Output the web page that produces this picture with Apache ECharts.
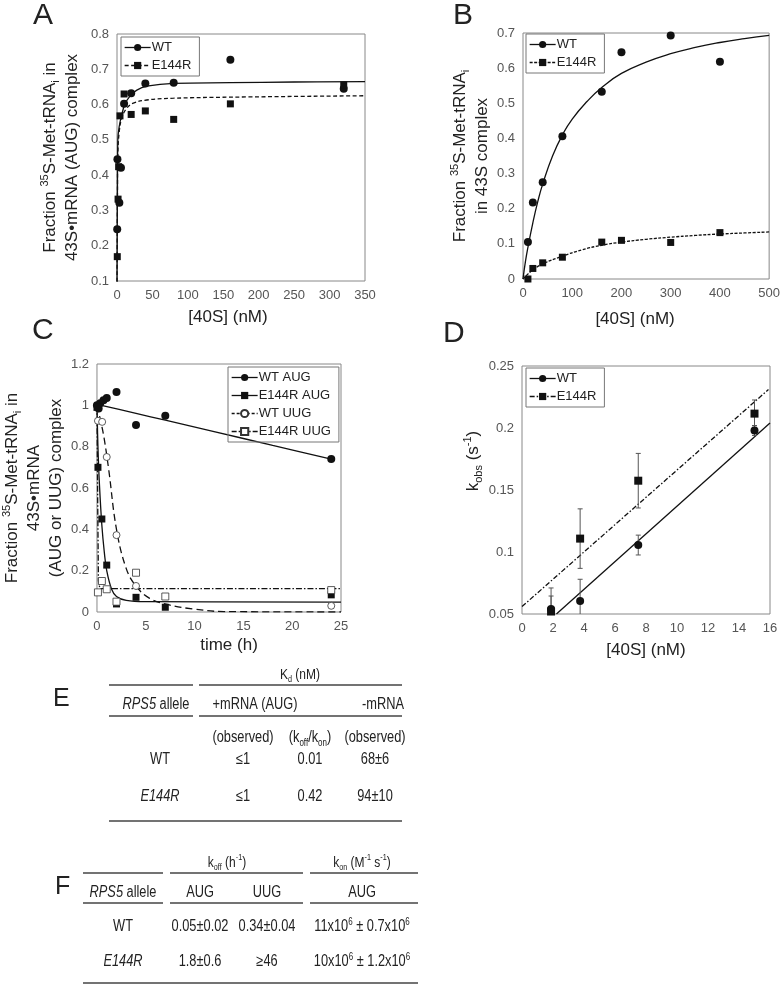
<!DOCTYPE html>
<html>
<head>
<meta charset="utf-8">
<script src="https://cdn.jsdelivr.net/npm/echarts@6/dist/echarts.min.js"></script>
<style>
  html, body { margin: 0; padding: 0; background: #fff; }
  #fig { width: 783px; height: 984px; }
</style>
</head>
<body>
<div id="fig"></div>
<script>
// ---------- panel A : 43S·mRNA (AUG) binding vs [40S]
const aWT = [[0.3, 0.247], [0.6, 0.445], [3.3, 0.322], [5.6, 0.421], [10, 0.602], [20, 0.632], [40, 0.66], [80, 0.662], [160, 0.727], [320, 0.645]];
const aE144R = [[0.4, 0.169], [1.5, 0.332], [2.3, 0.424], [4.2, 0.568], [10, 0.63], [20, 0.572], [40, 0.582], [80, 0.558], [160, 0.602], [320, 0.656]];
const aWTfit = [[0, 0.08], [0.6, 0.35], [1.2, 0.5], [3.3, 0.54], [6.6, 0.57], [11, 0.6], [18, 0.623], [28, 0.641], [42, 0.652], [80, 0.66], [160, 0.662], [250, 0.664], [350, 0.665]];
const aE144Rfit = [[0, 0.08], [0.6, 0.33], [1.2, 0.46], [3, 0.52], [6.6, 0.561], [13.5, 0.589], [23, 0.604], [42, 0.613], [80, 0.618], [160, 0.621], [350, 0.625]];

// ---------- panel B : 43S binding (no mRNA)
const bWT = [[10, 0.105], [20, 0.218], [40, 0.275], [80, 0.406], [160, 0.533], [200, 0.645], [300, 0.693], [400, 0.618]];
const bE144R = [[10, 0], [20, 0.03], [40, 0.046], [80, 0.062], [160, 0.105], [200, 0.11], [300, 0.104], [400, 0.132]];
const bWTfit = [[0, 0], [5, 0.05], [10, 0.09], [20, 0.16], [30, 0.22], [40, 0.27], [60, 0.35], [80, 0.41], [100, 0.455], [130, 0.505], [160, 0.545], [200, 0.585], [250, 0.617], [300, 0.641], [350, 0.659], [400, 0.673], [450, 0.684], [500, 0.693]];
const bE144Rfit = [[0, 0], [10, 0.014], [20, 0.026], [40, 0.043], [80, 0.065], [120, 0.083], [160, 0.096], [200, 0.105], [250, 0.113], [300, 0.119], [350, 0.124], [400, 0.128], [450, 0.131], [500, 0.134]];

// ---------- panel C : dissociation time course
const cWTAUG = [[0, 1.0], [0.17, 0.985], [0.33, 1.01], [0.67, 1.025], [1, 1.035], [2, 1.065], [4, 0.905], [7, 0.95], [24, 0.74]];
const cE144RAUG = [[0, 0.99], [0.1, 0.70], [0.5, 0.45], [1, 0.227], [2, 0.039], [4, 0.071], [7, 0.023], [24, 0.083]];
const cWTUUG = [[0.1, 0.925], [0.53, 0.92], [1, 0.75], [2, 0.372], [4, 0.126], [24, 0.03]];
const cE144RUUG = [[0.1, 0.095], [0.5, 0.15], [1, 0.11], [2, 0.05], [4, 0.19], [7, 0.075], [24, 0.106]];
const cWTAUGfit = [[0, 1.005], [4, 0.961], [7, 0.928], [12, 0.873], [18, 0.806], [24, 0.74]];
const cE144RAUGfit = [[0, 1.0], [0.1, 0.8], [0.25, 0.62], [0.5, 0.42], [0.75, 0.29], [1, 0.2], [1.5, 0.11], [2, 0.075], [3, 0.056], [5, 0.05], [25, 0.048]];
const cWTUUGfit = [[0, 1.0], [0.35, 0.93], [0.7, 0.85], [1.2, 0.69], [2, 0.4], [3, 0.21], [4, 0.125], [5.4, 0.066], [7.4, 0.034], [9.8, 0.015], [13, 0.002], [25, 0]];
const cE144RUUGfit = [[0, 1.0], [0.08, 0.5], [0.15, 0.15], [0.3, 0.113], [25, 0.113]];

// ---------- panel D : kobs vs [40S]
const dConc = [1.875, 3.75, 7.5, 15];
const dWT = [0.054, 0.0605, 0.1056, 0.198];
const dWTerr = [0.0105, 0.0175, 0.008, 0.004];
const dE144R = [0.052, 0.1108, 0.1575, 0.2116];
const dE144Rerr = [0.019, 0.024, 0.022, 0.011];
const dWTfit = [[2.22, 0.05], [16, 0.204]];
const dE144Rfit = [[0, 0.056], [15.9, 0.231]];

// ---------- table E
const tabEHead = ['{it|RPS5} allele', '+mRNA (AUG)', '-mRNA'];
const tabESub = ['(observed)', '(k{sub|off}/k{sub|on})', '(observed)'];
const tabEAllele = ['WT', '{it|E144R}'];
const tabEObs = ['≤1', '≤1'];
const tabERatio = ['0.01', '0.42'];
const tabEMinus = ['68±6', '94±10'];

// ---------- table F
const tabFHead = ['{it|RPS5} allele', 'AUG', 'UUG', 'AUG'];
const tabFAllele = ['WT', '{it|E144R}'];
const tabFOffAUG = ['0.05±0.02', '1.8±0.6'];
const tabFOffUUG = ['0.34±0.04', '≥46'];
const tabFOnAUG = ['11x10{sup|6} ± 0.7x10{sup|6}', '10x10{sup|6} ± 1.2x10{sup|6}'];

const FONT = "'Liberation Sans', Arial, Helvetica, sans-serif";
const INK = '#111';

const richFor = (size, fam) => ({
    sup: { fontSize: Math.round(size * 0.62), fontFamily: fam, verticalAlign: 'top', color: '#222' },
    sub: { fontSize: Math.round(size * 0.62), fontFamily: fam, verticalAlign: 'bottom', color: '#222' },
    it: { fontSize: size, fontFamily: fam, fontStyle: 'italic', color: '#222' }
});

// markers: line series with an invisible line so the legend can show line + symbol
const dots = (name, data, ax, symbol, size, open) => ({
    type: 'line', name: name, data: data, xAxisIndex: ax, yAxisIndex: ax,
    symbol: symbol, symbolSize: size, showSymbol: true, clip: false,
    lineStyle: { width: 0, opacity: 0 },
    itemStyle: open ? { color: '#fff', borderColor: '#333', borderWidth: 0.8 } : { color: INK, borderWidth: 0 },
    emphasis: { disabled: true }, z: 5
});

const fit = (data, ax, type, smooth) => ({
    type: 'line', data: data, xAxisIndex: ax, yAxisIndex: ax,
    showSymbol: false, symbol: 'none', smooth: smooth,
    lineStyle: { color: INK, width: 1.3, type: type },
    emphasis: { disabled: true }, silent: true, z: 3
});

const legendFor = (names, types, left, top) => ({
    orient: 'vertical', left: left, top: top, selectedMode: false,
    data: names.map((n, i) => ({ name: n, lineStyle: { type: types[i], width: 1.3, color: INK, opacity: 1 } })),
    formatter: (n) => n.split('|')[1],
    itemWidth: 26, itemHeight: 9, itemGap: 5,
    padding: [4, 8, 4, 3], borderColor: '#777', borderWidth: 1,
    textStyle: { fontSize: 13, color: '#222', fontFamily: FONT, padding: [0, 0, 0, -4] }
});

const axisBase = {
    type: 'value', nameLocation: 'middle',
    axisLine: { show: false }, axisTick: { show: false }, splitLine: { show: false },
    axisLabel: { color: '#555', fontSize: 13, fontFamily: FONT, margin: 8 },
    nameTextStyle: { color: '#222', fontSize: 17, fontFamily: FONT, lineHeight: 22, rich: richFor(17, FONT) }
};

const withPad = (pad) => ({ nameTextStyle: Object.assign({}, axisBase.nameTextStyle, { padding: pad }) });

const xAx = (g, min, max, step, name, gap, pad) => Object.assign({}, axisBase, {
    gridIndex: g, min: min, max: max, interval: step, name: name, nameGap: gap
}, pad ? withPad(pad) : {});
const yAx = (g, min, max, step, name, gap, pad) => Object.assign({}, axisBase, {
    gridIndex: g, min: min, max: max, interval: step, name: name, nameGap: gap, nameRotate: 90
}, pad ? withPad(pad) : {});

// narrow (condensed) text is faked by squeezing the regular face
const txt = (x, y, text, size, align, squeeze) => ({
    type: 'text', x: x, y: y, silent: true, scaleX: squeeze || 1,
    style: {
        text: text, fontSize: size, fontFamily: FONT, fill: '#222',
        align: align || 'center', textAlign: align || 'center',
        verticalAlign: 'middle', textVerticalAlign: 'middle',
        lineHeight: size + 4, rich: richFor(size, FONT)
    }
});
const SQ = 0.8;
const TS = 16;
const hline = (x1, x2, y) => ({
    type: 'line', silent: true, shape: { x1: x1, y1: y, x2: x2, y2: y },
    style: { stroke: '#444', lineWidth: 1.3 }
});

// error bars for panel D
const errData = (means, errs) => dConc.map((c, i) => [c, means[i] - errs[i], means[i] + errs[i]]);
const errorBars = (data) => ({
    type: 'custom', xAxisIndex: 3, yAxisIndex: 3, data: data, clip: true, z: 4, silent: true,
    renderItem: (params, api) => {
        const top = api.coord([api.value(0), api.value(2)]);
        const bot = api.coord([api.value(0), api.value(1)]);
        const w = 2.5;
        const st = { stroke: '#555', lineWidth: 1 };
        return {
            type: 'group', children: [
                { type: 'line', shape: { x1: top[0], y1: top[1], x2: bot[0], y2: bot[1] }, style: st },
                { type: 'line', shape: { x1: top[0] - w, y1: top[1], x2: top[0] + w, y2: top[1] }, style: st },
                { type: 'line', shape: { x1: bot[0] - w, y1: bot[1], x2: bot[0] + w, y2: bot[1] }, style: st }
            ]
        };
    }
});

// panel letters
const graphics = [
    txt(33, 16, 'A', 30, 'left'),
    txt(453, 16, 'B', 30, 'left'),
    txt(32, 331, 'C', 30, 'left'),
    txt(443, 334, 'D', 30, 'left'),
    txt(53, 699, 'E', 25, 'left'),
    txt(55, 887, 'F', 25, 'left')
];

// table E
const eCols = [156, 255, 383];
const eCols2 = [160, 243, 310, 375];
graphics.push(txt(300, 675, 'K{sub|d} (nM)', 15, 'center', SQ));
graphics.push(hline(109, 193, 685), hline(199, 402, 685), hline(109, 193, 716), hline(199, 402, 716), hline(109, 402, 821));
tabEHead.forEach((t, i) => graphics.push(txt(eCols[i], 705, t, TS, 'center', SQ)));
tabESub.forEach((t, i) => graphics.push(txt(eCols2[i + 1], 738, t, TS, 'center', SQ)));
tabEAllele.forEach((a, r) => {
    const y = r === 0 ? 760 : 797;
    [a, tabEObs[r], tabERatio[r], tabEMinus[r]].forEach((t, i) => graphics.push(txt(eCols2[i], y, t, TS, 'center', SQ)));
});

// table F
const fCols = [123, 200, 267, 362];
graphics.push(txt(227, 863, 'k{sub|off} (h{sup|-1})', 15, 'center', SQ));
graphics.push(txt(362, 863, 'k{sub|on} (M{sup|-1} s{sup|-1})', 15, 'center', SQ));
[873, 903].forEach((y) => graphics.push(hline(83, 163, y), hline(170, 303, y), hline(310, 418, y)));
graphics.push(hline(83, 418, 983));
tabFHead.forEach((t, i) => graphics.push(txt(fCols[i], 893, t, TS, 'center', SQ)));
tabFAllele.forEach((a, r) => {
    const y = r === 0 ? 927 : 962;
    [a, tabFOffAUG[r], tabFOffUUG[r], tabFOnAUG[r]].forEach((t, i) => graphics.push(txt(fCols[i], y, t, TS, 'center', SQ)));
});

const chart = echarts.init(document.getElementById('fig'), null, { renderer: 'canvas' });

const option = {
    animation: false,
    backgroundColor: '#fff',
    textStyle: { fontFamily: FONT },
    grid: [
        { left: 117, top: 34, width: 248, height: 247, show: true, borderColor: '#888', borderWidth: 1 },
        { left: 523, top: 33, width: 249, height: 246, show: true, borderColor: '#888', borderWidth: 1 },
        { left: 93, top: 364, width: 248, height: 248, show: true, borderColor: '#888', borderWidth: 1 },
        { left: 522, top: 366, width: 248, height: 248, show: true, borderColor: '#888', borderWidth: 1 }
    ],
    xAxis: [
        xAx(0, 0, 350, 50, '[40S] (nM)', 25, [0, 26, 0, 0]),
        xAx(1, 0, 500, 100, '[40S] (nM)', 29, [0, 22, 0, 0]),
        xAx(2, 0, 25, 5, 'time (h)', 21, [0, 0, 0, 20]),
        xAx(3, 0, 16, 2, '[40S] (nM)', 25)
    ],
    yAxis: [
        yAx(0, 0.1, 0.8, 0.1, 'Fraction {sup|35}S-Met-tRNA{sub|i} in\n43S•mRNA (AUG) complex', 34),
        yAx(1, 0, 0.7, 0.1, 'Fraction {sup|35}S-Met-tRNA{sub|i}\nin 43S complex', 27),
        yAx(2, 0, 1.2, 0.2, 'Fraction {sup|35}S-Met-tRNA{sub|i} in\n43S•mRNA\n(AUG or UUG) complex', 29),
        yAx(3, 0.05, 0.25, 0.05, 'k{sub|obs} (s{sup|-1})', 36, [0, 0, 0, 58])
    ],
    legend: [
        legendFor(['A|WT', 'A|E144R'], ['solid', [4, 2.5]], 121, 37),
        legendFor(['B|WT', 'B|E144R'], ['solid', [3, 1.5]], 526, 34),
        legendFor(['C|WT AUG', 'C|E144R AUG', 'C|WT UUG', 'C|E144R UUG'], ['solid', 'solid', [3, 2], [5, 2, 1.5, 2]], 228, 367),
        legendFor(['D|WT', 'D|E144R'], ['solid', [5, 2, 1.5, 2]], 526, 368)
    ],
    graphic: graphics,
    series: [
        fit(aWTfit, 0, 'solid', 0.4),
        fit(aE144Rfit, 0, [4, 2.5], 0.4),
        dots('A|WT', aWT, 0, 'circle', 8),
        dots('A|E144R', aE144R, 0, 'rect', 7),

        fit(bWTfit, 1, 'solid', 0.5),
        fit(bE144Rfit, 1, [3, 1.5], 0.5),
        dots('B|WT', bWT, 1, 'circle', 8),
        dots('B|E144R', bE144R, 1, 'rect', 7),

        fit(cWTAUGfit, 2, 'solid', 0.3),
        fit(cE144RAUGfit, 2, 'solid', 0.4),
        fit(cWTUUGfit, 2, [7, 4], 0.4),
        fit(cE144RUUGfit, 2, [6, 2, 1.5, 2], false),
        dots('C|WT AUG', cWTAUG, 2, 'circle', 8),
        dots('C|E144R AUG', cE144RAUG, 2, 'rect', 7),
        dots('C|WT UUG', cWTUUG, 2, 'circle', 7, true),
        dots('C|E144R UUG', cE144RUUG, 2, 'rect', 7, true),

        fit(dWTfit, 3, 'solid', false),
        fit(dE144Rfit, 3, [5, 2, 1.5, 2], false),
        errorBars(errData(dWT, dWTerr)),
        errorBars(errData(dE144R, dE144Rerr)),
        dots('D|WT', dConc.map((c, i) => [c, dWT[i]]), 3, 'circle', 8),
        dots('D|E144R', dConc.map((c, i) => [c, dE144R[i]]), 3, 'rect', 8)
    ]
};

chart.setOption(option);
window.onresize = () => {
    chart.resize();
};
</script>
</body>
</html>
